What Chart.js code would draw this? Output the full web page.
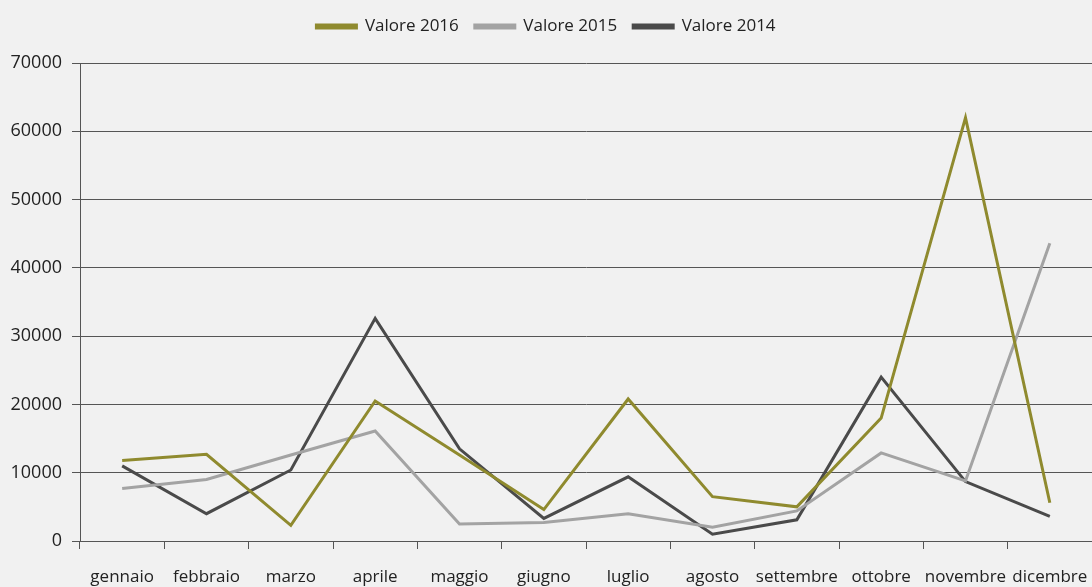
<!DOCTYPE html>
<html>
<head>
<meta charset="utf-8">
<script src="https://cdn.jsdelivr.net/npm/chart.js@4.4.1/dist/chart.umd.min.js"></script>
<style>
  html, body { margin: 0; padding: 0; background: #f1f1f1; }
  #wrap { width: 1092px; height: 587px; }
</style>
</head>
<body>
<div id="wrap"><canvas id="grafico" width="1092" height="587"></canvas></div>
<script>
// Dati
const mesi = ['gennaio', 'febbraio', 'marzo', 'aprile', 'maggio', 'giugno',
    'luglio', 'agosto', 'settembre', 'ottobre', 'novembre', 'dicembre'];

const valore2016 = [11800, 12700, 2300, 20500, 12600, 4600, 20800, 6500, 5000, 18000, 62000, 5600];
const valore2015 = [7700, 9000, 12600, 16100, 2500, 2700, 4000, 2000, 4400, 12900, 8800, 43600];
const valore2014 = [11000, 4000, 10400, 32600, 13500, 3300, 9400, 1000, 3100, 24000, 8700, 3600];

const tickY = [0, 10000, 20000, 30000, 40000, 50000, 60000, 70000];

const famiglia = "'Open Sans', 'Liberation Sans', sans-serif";

function serie(label, data, colore) {
    return {
        label: label,
        data: data,
        borderColor: colore,
        backgroundColor: colore,
        borderWidth: 3,
        pointRadius: 0,
        tension: 0
    };
}

// spazio extra sotto la legenda
const spazioLegenda = {
    id: 'spazioLegenda',
    beforeInit(chart) {
        const fitOrig = chart.legend.fit;
        chart.legend.fit = function() {
            fitOrig.bind(chart.legend)();
            this.height += 18;
        };
    }
};

const ctx = document.getElementById('grafico').getContext('2d');

new Chart(ctx, {
    type: 'line',
    data: {
        labels: mesi,
        datasets: [
            serie('Valore 2016', valore2016, '#8f8a2e'),
            serie('Valore 2015', valore2015, '#a3a3a3'),
            serie('Valore 2014', valore2014, '#4a4a4a')
        ]
    },
    plugins: [spazioLegenda],
    options: {
        responsive: false,
        animation: false,
        layout: { padding: { top: 2, right: 0, left: 0, bottom: 0 } },
        plugins: {
            legend: {
                display: true,
                position: 'top',
                labels: {
                    boxWidth: 40,
                    boxHeight: 3,
                    padding: 16,
                    color: '#222',
                    font: { family: famiglia, size: 17 }
                }
            },
            tooltip: { enabled: false }
        },
        scales: {
            x: {
                offset: true,
                grid: {
                    display: true,
                    drawOnChartArea: false,
                    drawTicks: true,
                    tickLength: 8,
                    color: '#555',
                    offset: true
                },
                border: { color: '#555', width: 1 },
                ticks: { color: '#222', font: { family: famiglia, size: 17 }, padding: 18, maxRotation: 0, autoSkip: false },
                afterFit: function(scale) {
                    scale.height = 46;
                    scale.paddingLeft = 0;
                    scale.paddingRight = 0;
                }
            },
            y: {
                min: 0,
                max: 70000,
                afterBuildTicks: function(scale) {
                    scale.ticks = tickY.map(v => ({ value: v }));
                },
                grid: {
                    color: '#555',
                    lineWidth: 1,
                    tickLength: 8
                },
                border: { color: '#555', width: 1 },
                ticks: {
                    color: '#222',
                    font: { family: famiglia, size: 18 },
                    padding: 10,
                    callback: function(v) { return String(v); }
                },
                afterFit: function(scale) { scale.width = 80; }
            }
        }
    }
});
</script>
</body>
</html>
